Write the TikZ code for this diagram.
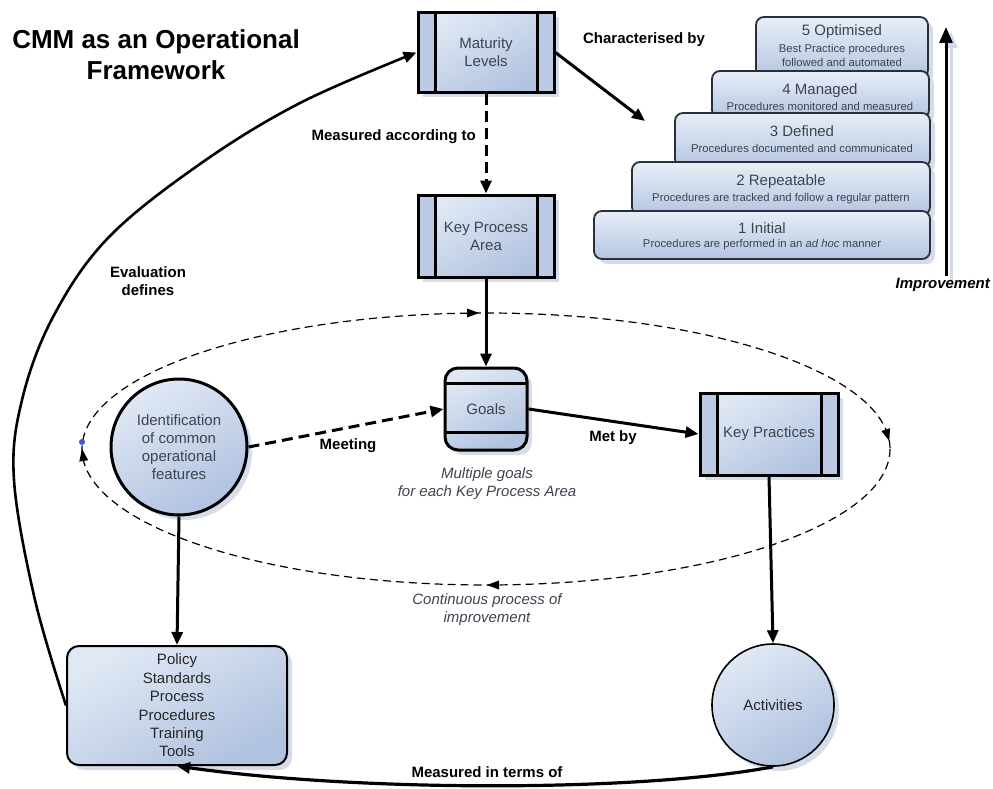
\documentclass[tikz,border=0pt]{standalone}
\usepackage{fontspec}
\setmainfont{Liberation Sans}
\usetikzlibrary{arrows.meta,shadows,calc}
\definecolor{boxA}{RGB}{224,232,244}
\definecolor{boxB}{RGB}{176,194,224}
\definecolor{sideC}{RGB}{186,202,229}
\definecolor{stepA}{RGB}{232,238,247}
\definecolor{stepB}{RGB}{180,197,225}
\definecolor{stepD}{RGB}{40,48,62}
\definecolor{shad}{RGB}{210,217,231}
\definecolor{txt}{RGB}{62,67,80}
\definecolor{dotc}{RGB}{60,90,200}
\begin{document}
\begin{tikzpicture}[x=1pt,y=-1pt,
  font=\fontsize{15}{18}\selectfont,
  sh/.style={drop shadow={shadow xshift=5pt,shadow yshift=-5pt,fill=shad,opacity=0.9}},
  grad/.style={top color=boxA,bottom color=boxB,shading angle=30},
  proc/.style={draw=black,line width=3pt,grad,sh,minimum width=136pt,minimum height=80pt,
    text=txt,align=center,inner sep=0pt,
    path picture={
      \fill[sideC] (path picture bounding box.north west) rectangle ([xshift=17pt]path picture bounding box.south west);
      \fill[sideC] (path picture bounding box.north east) rectangle ([xshift=-17pt]path picture bounding box.south east);
      \draw[line width=3pt] ([xshift=17pt]path picture bounding box.north west) -- ([xshift=17pt]path picture bounding box.south west);
      \draw[line width=3pt] ([xshift=-17pt]path picture bounding box.north east) -- ([xshift=-17pt]path picture bounding box.south east);}},
  goal/.style={draw=black,line width=3pt,grad,sh,rounded corners=13pt,minimum width=82pt,minimum height=82pt,
    text=txt,inner sep=0pt,
    path picture={
      \draw[line width=3pt] ([yshift=-15pt]path picture bounding box.north west) -- ([yshift=-15pt]path picture bounding box.north east);
      \draw[line width=3pt] ([yshift=18pt]path picture bounding box.south west) -- ([yshift=18pt]path picture bounding box.south east);}},
  circ/.style={circle,draw=black,line width=3pt,grad,sh,text=txt,align=center,inner sep=0pt},
  polbox/.style={draw=black,line width=2pt,grad,sh,rounded corners=12pt,minimum width=220pt,minimum height=119pt,
    align=center,text=black!85,inner sep=0pt,font=\fontsize{15}{18.4}\selectfont},
  stepbox/.style={draw=stepD,line width=1.8pt,rounded corners=8pt,top color=stepA,bottom color=stepB,sh},
  lab/.style={font=\fontsize{15}{18}\selectfont\bfseries,inner sep=1pt},
  note/.style={font=\fontsize{15}{18}\selectfont\itshape,text=txt,align=center,inner sep=1pt},
  stt/.style={font=\fontsize{15}{18}\selectfont,text=txt,inner sep=0pt},
  sts/.style={font=\fontsize{11.3}{14}\selectfont,text=txt,inner sep=0pt,align=center},
  arr/.style={-{Triangle[length=13pt,width=11pt]}},
  thick3/.style={line width=3pt},
]
\useasboundingbox (0,0) rectangle (993,789);

% title
\node[font=\fontsize{26}{31}\selectfont\bfseries,align=center] (title) at (156,55) {CMM as an Operational\\Framework};

% dashed cycle ellipse with its four arrowheads
\draw[line width=1.2pt,dash pattern=on 8pt off 5pt] (486,449) ellipse [x radius=404, y radius=136];
\fill (479,313) -- (467,308.5) -- (467,317.5) -- cycle;
\fill (889.3,441) -- (890.0,428.2) -- (881.4,431.0) -- cycle;
\fill (487,585) -- (499,580.5) -- (499,589.5) -- cycle;
\fill (82,449) -- (88.2,460.2) -- (79.3,461.6) -- cycle;
\fill[dotc] (82,442) circle (3pt);

% staircase of levels
\filldraw[stepbox] (756,17) rectangle (928,78);
\filldraw[stepbox] (712,71) rectangle (929,118);
\filldraw[stepbox] (675,113) rectangle (930,167);
\filldraw[stepbox] (632,162) rectangle (930,215);
\filldraw[stepbox] (594,211) rectangle (930,259);
\node[stt] (s5) at (842,32) {5 Optimised};
\node[sts] (s5d) at (842,55) {Best Practice procedures\\followed and automated};
\node[stt] (s4) at (820,91) {4 Managed};
\node[sts] (s4d) at (820,106) {Procedures monitored and measured};
\node[stt] (s3) at (802,131) {3 Defined};
\node[sts] (s3d) at (802,148) {Procedures documented and communicated};
\node[stt] (s2) at (781,182) {2 Repeatable};
\node[sts] (s2d) at (781,199) {Procedures are tracked and follow a regular pattern};
\node[stt] (s1) at (762,228) {1 Initial};
\node[sts] (s1d) at (762,245) {Procedures are performed in an \textit{ad hoc} manner};

% improvement arrow
\coordinate (imp0) at (946,276);
\coordinate (imp1) at (946,27);
\draw[line width=3pt,shad,-{Triangle[length=16pt,width=13pt]}] ([xshift=5pt,yshift=-5pt]imp0) -- ([xshift=5pt,yshift=-5pt]imp1);
\draw[line width=3pt,-{Triangle[length=16pt,width=13pt]}] (imp0) -- (imp1);
\node[font=\fontsize{15}{18}\selectfont\bfseries\itshape,anchor=east,inner sep=0pt] (impl) at (990,285) {Improvement};

% main nodes
\node[proc] (ml) at (486,52.5) {Maturity\\Levels};
\node[proc,minimum height=82pt] (kpa) at (486,236) {Key Process\\Area};
\node[goal] (goals) at (486,409) {Goals};
\node[proc,minimum width=138pt,minimum height=82pt] (kp) at (769,434) {Key Practices};
\node[circ,minimum size=136pt] (idf) at (179,447) {Identification\\of common\\operational\\features};
\node[polbox] (pol) at (177,705.5) {Policy\\Standards\\Process\\Procedures\\Training\\Tools};
\node[circ,line width=1.6pt,minimum size=122pt,text=black!85] (act) at (773,705) {Activities};

% connectors
\draw[thick3,arr,dash pattern=on 11pt off 6pt] (ml.south) -- (kpa.north);
\coordinate (chtip) at (645,121);
\draw[thick3,arr] (ml.east) -- (chtip);
\draw[thick3,arr] (kpa.south) -- (goals.north);
\draw[thick3,arr] (goals.east) -- (kp.west);
\draw[thick3,arr,dash pattern=on 11pt off 6pt] (idf.east) -- (goals.west);
\draw[thick3,arr] (idf.south) -- (pol.north);
\draw[thick3,arr] (kp.south) -- (act.north);
\draw[line width=3.2pt,arr] (act.south) .. controls (640,792) and (360,792) .. (pol.south);
\draw[line width=2.6pt,arr] plot[smooth,tension=0.6] coordinates
  {(pol.west) (35,600) (14,480) (22,400) (53,317) (108,238) (200,164) (300,103) (ml.west)};

% labels
\node[lab,anchor=east] (lmeas) at (477,137) {Measured according to};
\node[lab] (lchar) at (644,40) {Characterised by};
\node[lab,align=center,font=\fontsize{15}{18}\selectfont\bfseries] (leval) at (148,281) {Evaluation\\defines};
\node[lab] (lmeet) at (348,446) {Meeting};
\node[lab] (lmet) at (613,438) {Met by};
\node[note] (lmult) at (487,484) {Multiple goals\\for each Key Process Area};
\node[note] (lcont) at (487,610) {Continuous process of\\improvement};
\node[lab] (lterm) at (487,772) {Measured in terms of};
\end{tikzpicture}
\end{document}
